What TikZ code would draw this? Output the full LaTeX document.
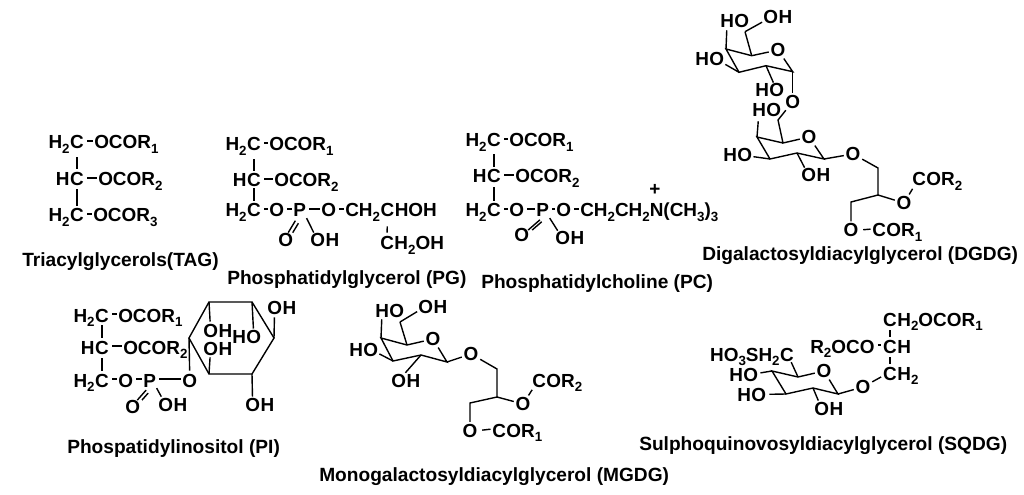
\documentclass[tikz,border=0pt]{standalone}
\usepackage{fontspec}
\setmainfont{Liberation Sans}[BoldFont={Liberation Sans Bold}]
\newcommand\sbs[1]{\raisebox{-0.22em}{\fontsize{10}{10}\selectfont #1}}
\tikzset{
  bond/.style={line width=1.05pt,black,line join=miter},
  sa/.style={shorten <=#1*0.75pt},
  sb/.style={shorten >=#1*0.75pt},
  dashb/.style={bond,sa=3,sb=1.5},
  atom/.style={anchor=base west,inner sep=0pt,text height=12pt,text depth=0pt,font=\fontsize{14.2}{14.2}\selectfont\bfseries},
  ato/.style={anchor=base west,inner sep=0pt,font=\fontsize{14.2}{14.2}\selectfont\bfseries},
  rox/.style={anchor=center,inner sep=1.2pt,font=\fontsize{14.2}{14.2}\selectfont\bfseries},
  lbl/.style={anchor=base west,inner sep=0pt,font=\fontsize{14.35}{14.35}\selectfont\bfseries}
}
% C atom with a prefix (H2 or H) on its left
\newcommand\CL[4]{\node[atom,anchor=base] (#1) at (#2,#3) {C}; \node[atom,anchor=base east] (#1p) at (#1.base west) {#4};}
% C atom with a suffix on its right
\newcommand\CR[4]{\node[atom,anchor=base] (#1) at (#2,#3) {C}; \node[atom] (#1s) at (#1.base east) {#4};}
\newcommand\HO[3]{\node[ato] (#1H) at (#2,#3) {H}; \node[ato] (#1O) at (#1H.base east) {O};}
\newcommand\OH[3]{\node[ato] (#1O) at (#2,#3) {O}; \node[ato] (#1H) at (#1O.base east) {H};}
\begin{document}
\begin{tikzpicture}[x=0.75pt,y=-0.75pt]
\useasboundingbox (0,0) rectangle (1024,495);
\fill[white] (0,0) rectangle (1024,495);

% ---------- TAG
\CL{ta}{77}{149}{H\sbs{2}}
\CL{tb}{77}{186}{H}
\CL{tc}{77}{222}{H\sbs{2}}
\node[atom] (tao) at (94,149) {OCOR\sbs{1}};
\node[atom] (tbo) at (98,186) {OCOR\sbs{2}};
\node[atom] (tco) at (93,222) {OCOR\sbs{3}};
\draw[dashb] (ta.east) -- (tao.west);
\draw[dashb] (tb.east) -- (tbo.west);
\draw[dashb] (tc.east) -- (tco.west);
\draw[bond,sa=8,sb=1] (ta.south) -- (tb.north);
\draw[bond,sa=3] (tb.south) -- (tc.north);
\node[lbl] (tagl) at (22,267) {Triacylglycerols(TAG)};

% ---------- PG
\CL{ga}{254}{151}{H\sbs{2}}
\CL{gb}{254}{187}{H}
\CL{gc}{254}{217}{H\sbs{2}}
\node[atom] (gao) at (269,151) {OCOR\sbs{1}};
\node[atom] (gbo) at (274,187) {OCOR\sbs{2}};
\node[atom] (gco) at (269,217) {O};
\node[atom] (gp) at (293,217) {P};
\node[atom] (gco2) at (321,217) {O};
\node[atom] (gch) at (345,217) {CH\sbs{2}};
\node[atom] (gcc) at (gch.base east) {C};
\node[atom] (gcs) at (gcc.base east) {HOH};
\node[atom] (gdc) at (380,250) {C};
\node[atom] (gds) at (gdc.base east) {H\sbs{2}OH};
\node[ato] (gdb) at (278,247) {O};
\OH{gh}{310}{247}
\draw[dashb] (ga.east) -- (gao.west);
\draw[dashb] (gb.east) -- (gbo.west);
\draw[dashb] (gc.east) -- (gco.west);
\draw[dashb] (gco.east) -- (gp.west);
\draw[dashb] (gp.east) -- (gco2.west);
\draw[dashb] (gco2.east) -- (gch.west);
\draw[bond,sa=8] (ga.south) -- (gb.north);
\draw[bond,sa=1] (gb.south) -- (gc.north);
\draw[bond,sa=9,sb=1] (gcc.south) -- (gdc.north);
\draw[bond,sa=4,sb=1,transform canvas={xshift=-1.6pt}] (gp.south) -- (gdb);
\draw[bond,sa=7,sb=1,transform canvas={xshift=1.8pt}] (gp.south) -- (gdb);
\draw[bond,sa=1,sb=1] (gp.south east) -- (ghO);
\node[lbl] (pgl) at (227,285) {Phosphatidylglycerol (PG)};

% ---------- PC
\CL{ca}{494}{147}{H\sbs{2}}
\CL{cb}{494}{183}{H}
\CL{cc}{494}{217}{H\sbs{2}}
\node[atom] (cao) at (509,147) {OCOR\sbs{1}};
\node[atom] (cbo) at (515,183) {OCOR\sbs{2}};
\node[atom] (cco) at (509,217) {O};
\node[atom] (cp) at (536,217) {P};
\node[atom] (cco2) at (556,217) {O};
\node[atom] (cch) at (580,217) {CH\sbs{2}CH\sbs{2}N(CH\sbs{3})\sbs{3}};
\node[ato] (cplus) at (649,196) {+};
\node[ato] (cdb) at (514,242) {O};
\OH{ch}{555}{245}
\draw[dashb] (ca.east) -- (cao.west);
\draw[dashb] (cb.east) -- (cbo.west);
\draw[dashb] (cc.east) -- (cco.west);
\draw[dashb] (cco.east) -- (cp.west);
\draw[dashb] (cp.east) -- (cco2.west);
\draw[dashb] (cco2.east) -- (cch.west);
\draw[bond,sa=7] (ca.south) -- (cb.north);
\draw[bond,sa=4] (cb.south) -- (cc.north);
\draw[bond,sa=1,sb=1,transform canvas={xshift=-1.4pt,yshift=-1.4pt}] (cp.south) -- (cdb);
\draw[bond,sa=4,sb=1,transform canvas={xshift=1.6pt,yshift=-1.4pt}] (cp.south) -- (cdb);
\draw[bond,sa=1,sb=1] (cp.south east) -- (chO);
\node[lbl] (pcl) at (481,288) {Phosphatidylcholine (PC)};

% ---------- DGDG
\coordinate (d1) at (792.7,71.7);
\coordinate (d2) at (766,65.7);
\coordinate (d3) at (739,72.3);
\coordinate (d4) at (726,49);
\coordinate (d5) at (751.7,55.7);
\coordinate (d6) at (745,31.7);
\node[rox] (dO) at (778,50) {O};
\HO{da}{720}{28}
\OH{db}{763}{24}
\HO{dc}{695}{66}
\HO{dd}{755}{97}
\node[rox] (dL) at (792.7,101.7) {O};
\draw[bond] (dO) -- (d5) -- (d4) -- (d3) -- (d2) -- (d1) -- (dO);
\draw[bond] (d5) -- (d6);
\draw[bond,sb=1] (d6) -- (dbO);
\draw[bond,sb=2] (d4) -- (daH);
\draw[bond,sb=1] (d3) -- (dcO);
\draw[bond,sb=1] (d2) -- (ddO);
\draw[bond] (d1) -- (dL);
\coordinate (e1) at (824,159);
\coordinate (e2) at (797,153);
\coordinate (e3) at (770,159);
\coordinate (e4) at (757,137);
\coordinate (e5) at (783,143);
\coordinate (e6) at (778,120);
\coordinate (g1) at (878,168);
\coordinate (g2) at (878,195);
\coordinate (g3) at (851,202);
\node[rox] (eO) at (809,137) {O};
\node[rox] (eX) at (853,154) {O};
\node[rox] (eY) at (904,203) {O};
\node[rox] (eZ) at (851,230) {O};
\HO{ea}{752}{117}
\HO{eb}{723}{162}
\OH{ec}{801}{182}
\node[atom] (f2c) at (912,186) {C};
\node[atom] (f2s) at (f2c.base east) {OR\sbs{2}};
\node[atom] (f1c) at (872,237) {C};
\node[atom] (f1s) at (f1c.base east) {OR\sbs{1}};
\draw[bond] (dL) -- (e6) -- (e5) -- (eO) -- (e1) -- (e2) -- (e3) -- (e4) -- (e5);
\draw[bond,sb=4] (e4) -- (eaH);
\draw[bond,sb=1] (e3) -- (ebO);
\draw[bond,sb=1] (e2) -- (ecO);
\draw[bond] (e1) -- (eX) -- (g1) -- (g2) -- (eY);
\draw[bond] (g2) -- (g3) -- (eZ);
\draw[bond,sb=3] (eY) -- (f2c);
\draw[dashb] (eZ.east) -- (f1c.west);
\node[lbl] (dgl) at (702,261) {Digalactosyldiacylglycerol (DGDG)};

% ---------- PI
\CL{ia}{102}{322}{H\sbs{2}}
\CL{ib}{102}{354}{H}
\CL{ic}{102}{387}{H\sbs{2}}
\node[atom] (iao) at (118,322) {OCOR\sbs{1}};
\node[atom] (ibo) at (123,354) {OCOR\sbs{2}};
\node[atom] (ico) at (118,387) {O};
\node[atom] (ip) at (143,387) {P};
\node[atom] (iox) at (182,387) {O};
\node[ato] (idb) at (125,413) {O};
\OH{ih}{158}{411}
\draw[dashb] (ia.east) -- (iao.west);
\draw[dashb] (ib.east) -- (ibo.west);
\draw[dashb] (ic.east) -- (ico.west);
\draw[dashb] (ico.east) -- (ip.west);
\draw[dashb] (ip.east) -- (iox.west);
\draw[bond,sa=3] (ia.south) -- (ib.north);
\draw[bond,sa=4] (ib.south) -- (ic.north);
\draw[bond,sa=2,sb=1,transform canvas={xshift=-1.6pt,yshift=-1pt}] (ip.south) -- (idb);
\draw[bond,sa=6,sb=1,transform canvas={xshift=1.9pt,yshift=-1pt}] (ip.south) -- (idb);
\draw[bond,sa=1,sb=1] (ip.south east) -- (ihO);
\coordinate (ra) at (189,338);
\coordinate (rb) at (209,302);
\coordinate (rc) at (252,302);
\coordinate (rd) at (274,338);
\coordinate (re) at (252,374);
\coordinate (rf) at (209,374);
\OH{ra1}{203}{337}
\OH{rb1}{203}{355}
\HO{rc1}{232}{343}
\OH{rd1}{267}{314}
\OH{re1}{245}{411}
\draw[bond] (ra) -- (rb) -- (rc) -- (rd) -- (re) -- (rf) -- cycle;
\draw[bond] (iox.north) -- (ra);
\draw[bond,sb=2] (rb) -- (ra1O);
\draw[bond,sb=2] (rf) -- (rb1O);
\draw[bond,sb=1] (rc) -- (rc1O);
\draw[bond,sb=3] (rd) -- (rd1O);
\draw[bond,sb=1] (re) -- (re1O);
\node[lbl] (pil) at (67,453) {Phospatidylinositol (PI)};

% ---------- MGDG
\coordinate (m1) at (447,362);
\coordinate (m2) at (421,355);
\coordinate (m3) at (393,361);
\coordinate (m4) at (381,338);
\coordinate (m5) at (407,345);
\coordinate (m6) at (400,322);
\coordinate (n1) at (497,369);
\coordinate (n2) at (497,397);
\coordinate (n3) at (470,403);
\node[rox] (mO) at (433,339) {O};
\node[rox] (mX) at (471,354) {O};
\node[rox] (mY) at (523,404) {O};
\node[rox] (mZ) at (470,430.5) {O};
\HO{ma}{375}{317}
\OH{mb}{418}{313}
\HO{mc}{349}{356}
\OH{md}{391}{387}
\node[atom] (o2c) at (532,387) {C};
\node[atom] (o2s) at (o2c.base east) {OR\sbs{2}};
\node[atom] (o1c) at (492,437) {C};
\node[atom] (o1s) at (o1c.base east) {OR\sbs{1}};
\draw[bond] (mO) -- (m5) -- (m4) -- (m3) -- (m2) -- (m1) -- (mO);
\draw[bond] (m5) -- (m6);
\draw[bond,sb=1] (m6) -- (mbO);
\draw[bond,sb=2] (m4) -- (maH);
\draw[bond,sb=1] (m3) -- (mcO);
\draw[bond,sb=1] (m2) -- (mdO);
\draw[bond] (m1) -- (mX) -- (n1) -- (n2) -- (mY);
\draw[bond] (n2) -- (n3) -- (mZ);
\draw[bond,sb=3] (mY) -- (o2c);
\draw[dashb] (mZ.east) -- (o1c.west);
\node[lbl] (mgl) at (319,481) {Monogalactosyldiacylglycerol (MGDG)};

% ---------- SQDG
\coordinate (s1) at (838,394);
\coordinate (s2) at (813,388);
\coordinate (s3) at (786,394);
\coordinate (s4) at (772,371);
\coordinate (s5) at (798,377);
\node[rox] (sO) at (824,371) {O};
\node[rox] (sX) at (863,387) {O};
\HO{sa}{729}{381}
\HO{sb}{737}{401}
\OH{sc}{814}{415}
\CL{s6}{787}{361}{HO\sbs{3}SH\sbs{2}}
\CR{qa}{890}{326}{H\sbs{2}OCOR\sbs{1}}
\CR{qb}{890}{353}{H}
\CR{qc}{890}{380}{H\sbs{2}}
\node[atom] (qr) at (810,353) {R\sbs{2}OCO};
\draw[dashb] (qr.east) -- (qb.west);
\draw[bond,sa=4] (qa.south) -- (qb.north);
\draw[bond,sa=4] (qb.south) -- (qc.north);
\draw[bond] (sO) -- (s5) -- (s4) -- (s3) -- (s2) -- (s1) -- (sO);
\draw[bond,sb=1] (s5) -- (s6);
\draw[bond,sb=2] (s4) -- (saO);
\draw[bond,sb=3] (s3) -- (sbO);
\draw[bond,sb=1] (s2) -- (scO);
\draw[bond] (s1) -- (sX);
\draw[bond,sb=2] (sX) -- (qc);
\node[lbl] (sql) at (639,450) {Sulphoquinovosyldiacylglycerol (SQDG)};
\end{tikzpicture}
\end{document}
